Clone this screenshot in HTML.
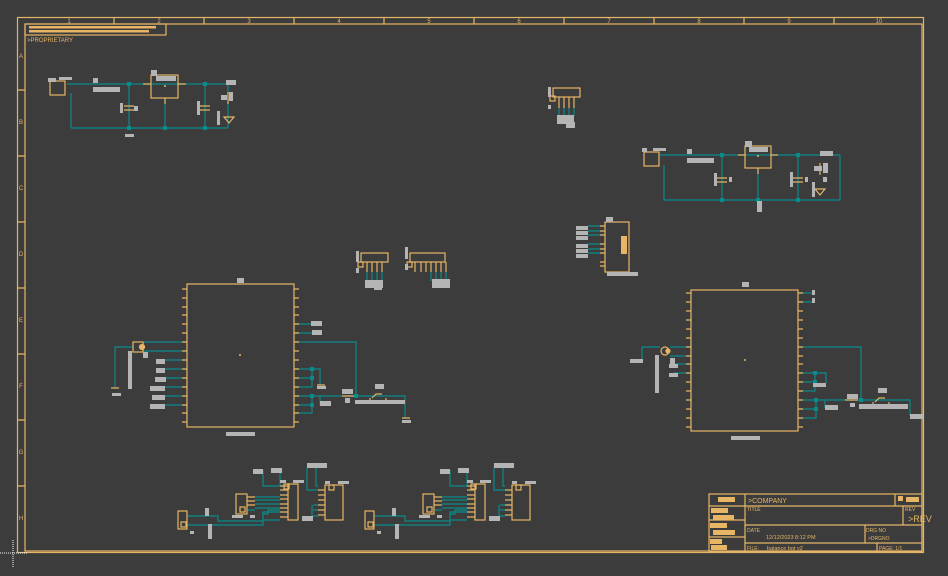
<!DOCTYPE html>
<html><head><meta charset="utf-8"><style>
html,body{margin:0;padding:0;background:#3c3c3c;}
svg{display:block;}
text{font-family:"Liberation Sans",sans-serif;fill:#e6b566;}
</style></head><body>
<svg width="948" height="576" viewBox="0 0 948 576" xmlns="http://www.w3.org/2000/svg">
<rect width="948" height="576" fill="#3c3c3c"/>
<g fill="none" stroke="#e6b566" stroke-width="1.2">
<rect x="17.5" y="17.5" width="906" height="535"/>
<rect x="25" y="24" width="897" height="527"/>
<path d="M114 17.5V24M204 17.5V24M294 17.5V24M384 17.5V24M474 17.5V24M564 17.5V24M654 17.5V24M744 17.5V24M834 17.5V24"/>
<path d="M17.5 90H25M17.5 156H25M17.5 222H25M17.5 288H25M17.5 354H25M17.5 420H25M17.5 486H25"/>
<rect x="25" y="24" width="141" height="11"/>
</g>
<g font-size="6" text-anchor="middle">
<text x="69" y="23">1</text><text x="159" y="23">2</text><text x="249" y="23">3</text><text x="339" y="23">4</text><text x="429" y="23">5</text><text x="519" y="23">6</text><text x="609" y="23">7</text><text x="699" y="23">8</text><text x="789" y="23">9</text><text x="879" y="23">10</text>
<text x="21" y="58">A</text><text x="21" y="124">B</text><text x="21" y="190">C</text><text x="21" y="256">D</text><text x="21" y="322">E</text><text x="21" y="388">F</text><text x="21" y="454">G</text><text x="21" y="520">H</text>
</g>
<rect x="29" y="26" width="127" height="2.5" fill="#e6b566"/><rect x="29" y="30" width="120" height="2.5" fill="#e6b566"/>
<text x="27" y="42" font-size="6">&gt;PROPRIETARY</text>
<path d="M13 540V568M0 553H28" stroke="#fff" stroke-width="1" stroke-dasharray="1,1"/>

<!-- teal wires -->
<g fill="none" stroke="#0a8a8a" stroke-width="1.2">
<!-- top-left reg -->
<path d="M67 84H228M71 128H228M71 93V128M129 84V128M165 98V128M205 84V128M228 84V128"/>
<!-- top-right reg -->
<path d="M660 155H840M664 200H840M664 165V200M722 155V200M758 168V200M798 155V200M840 155V200"/>
<!-- small ICs -->
<path d="M559 108V116M564 108V116M569 108V116M574 108V116"/>
<path d="M367 272V281M372 272V281M377 272V281M382 272V281M431 272V281M436 272V281M441 272V281M446 272V281"/>
<path d="M588 226H605M588 231H605M588 235H605M588 244H605M588 249H605M588 253H605"/>
<!-- left MCU -->
<path d="M143 342H187M143 351H187M165 360H187M165 369H187M165 378H187M165 387H187M165 396H187M165 405H187"/>
<path d="M133 347H115V388"/>
<path d="M294 324H312M294 333H312M294 342H356V396M294 369H312M294 378H312M294 387H312V369M312 369H320V385M294 396H405V418M294 405H312M294 413H312V396M320 396V405"/>
<!-- right MCU -->
<path d="M798 293H812M798 302H812M798 347H861V400M798 373H815M798 382H815M798 391H815V373M815 373H826V383M798 400H910V416M798 409H816M798 418H816V400M825 400V408"/>
<path d="M660 347H642V360M670 347H691M670 356H691M673 364H691M673 373H691"/>
</g>
<g fill="#0a8a8a">
<rect x="127" y="82" width="4" height="4"/><rect x="127" y="126" width="4" height="4"/><rect x="163" y="126" width="4" height="4"/><rect x="203" y="82" width="4" height="4"/><rect x="203" y="126" width="4" height="4"/>
<rect x="720" y="153" width="4" height="4"/><rect x="720" y="198" width="4" height="4"/><rect x="756" y="198" width="4" height="4"/><rect x="796" y="153" width="4" height="4"/><rect x="796" y="198" width="4" height="4"/>
<rect x="310" y="367" width="4" height="4"/><rect x="310" y="376" width="4" height="4"/><rect x="310" y="394" width="4" height="4"/><rect x="310" y="403" width="4" height="4"/><rect x="354" y="394" width="4" height="4"/>
<rect x="813" y="371" width="4" height="4"/><rect x="813" y="380" width="4" height="4"/><rect x="814" y="398" width="4" height="4"/><rect x="814" y="407" width="4" height="4"/><rect x="859" y="398" width="4" height="4"/>
</g>

<!-- orange symbols -->
<g fill="none" stroke="#e6b566" stroke-width="1.2">
<rect x="50" y="81" width="15" height="14"/><rect x="151" y="75" width="27" height="23"/><path d="M143 84H151M178 84H186M165 98V104"/>
<path d="M124 106H134M124 110H134M200 106H210M200 110H210M228 92V104M224 117h10l-5 6z"/>
<rect x="644" y="152" width="15" height="14"/><rect x="745" y="146" width="26" height="22"/><path d="M738 155H745M771 155H778M758 168V174"/>
<path d="M717 178H727M717 182H727M793 178H803M793 182H803M820 163V175M815 189h10l-5 6z"/>
<rect x="553" y="88" width="27" height="9"/><path d="M559 97V108M564 97V108M569 97V108M574 97V108"/><rect x="550" y="96" width="5" height="5"/>
<rect x="605" y="222" width="24" height="50"/><path d="M600 226h5M600 231h5M600 235h5M600 244h5M600 249h5M600 253h5M600 262h5M600 266h5"/>
<rect x="361" y="253" width="27" height="9"/><path d="M367 262V272M372 262V272M377 262V272M382 262V272"/><rect x="358" y="262" width="5" height="5"/>
<rect x="410" y="253" width="35" height="9"/><path d="M415 262V272M421 262V272M426 262V272M431 262V272M436 262V272M441 262V272M446 262V272"/><rect x="407" y="262" width="5" height="5"/>
<rect x="187" y="284" width="107" height="143"/>
<path d="M182 289h5M182 298h5M182 307h5M182 315h5M182 324h5M182 333h5M182 342h5M182 351h5M182 360h5M182 369h5M182 378h5M182 387h5M182 396h5M182 405h5M182 413h5M182 422h5"/>
<path d="M294 289h5M294 298h5M294 307h5M294 315h5M294 324h5M294 333h5M294 342h5M294 351h5M294 360h5M294 369h5M294 378h5M294 387h5M294 396h5M294 405h5M294 413h5M294 422h5"/>
<rect x="133" y="342" width="10" height="10"/><circle cx="142" cy="347" r="2.5" fill="#e6b566"/>
<path d="M111 388h8M317 385h8M402 418h8M342 396h12M372 398l4-4h6M370 398v3M386 398v3"/>
<rect x="691" y="290" width="107" height="141"/>
<path d="M686 293h5M686 302h5M686 311h5M686 320h5M686 329h5M686 338h5M686 347h5M686 356h5M686 364h5M686 373h5M686 382h5M686 391h5M686 400h5M686 409h5M686 418h5M686 427h5"/>
<path d="M798 293h5M798 302h5M798 311h5M798 320h5M798 329h5M798 338h5M798 347h5M798 356h5M798 364h5M798 373h5M798 382h5M798 391h5M798 400h5M798 409h5M798 418h5M798 427h5"/>
<circle cx="665" cy="351" r="4"/><circle cx="668" cy="351" r="2" fill="#e6b566"/>
<path d="M845 400h13M875 402l4-4h6M873 402v3M889 402v3"/>
</g>
<g fill="#e6b566"><circle cx="165" cy="86" r="1"/><circle cx="758" cy="156" r="1"/><circle cx="240" cy="355" r="1"/><circle cx="745" cy="360" r="1"/><rect x="621" y="236" width="6" height="18"/></g>

<!-- bottom group -->
<defs><g id="bg">
<g fill="none" stroke="#0a8a8a" stroke-width="1.2">
<path d="M187 516H218V521H263V512H280M187 525H263V520H280M263 470V486H280M280 470V486M255 497H280M255 500H280M255 504H280M255 508H280M262 514H268V510H280M248 510H255"/>
<path d="M307 467V490H318M316 468V486H318M313 505H318M313 510H318M312 505V516M312 516H318"/>
</g>
<g fill="none" stroke="#e6b566" stroke-width="1.2">
<rect x="178" y="511" width="9" height="18"/><rect x="181" y="522" width="5" height="5"/>
<rect x="236" y="494" width="11" height="20"/><rect x="240" y="507" width="5" height="5"/>
<path d="M247 497h8M247 501h8M247 505h8"/>
<rect x="288" y="484" width="10" height="36"/><path d="M280 486h8M280 490h8M280 495h8M280 499h8M280 504h8M280 508h8M280 512h8M280 517h8"/>
<rect x="325" y="485" width="18" height="35"/><path d="M318 490h7M318 495h7M318 500h7M318 505h7M318 510h7M318 515h7"/>
<rect x="284" y="484" width="5" height="5"/><rect x="329" y="485" width="5" height="5"/>
</g>
<g fill="#b4b4b4"><rect x="205" y="508" width="4" height="8"/><rect x="208" y="524" width="4" height="15"/><rect x="253" y="469" width="10" height="5"/><rect x="271" y="468" width="11" height="5"/><rect x="232" y="515" width="11" height="3"/><rect x="250" y="515" width="5" height="3"/><rect x="280" y="480" width="6" height="3"/><rect x="293" y="480" width="11" height="3"/><rect x="307" y="463" width="20" height="5"/><rect x="325" y="481" width="5" height="3"/><rect x="338" y="481" width="11" height="3"/><rect x="302" y="516" width="11" height="5"/><rect x="190" y="531" width="4" height="3"/></g>
</g></defs>
<use href="#bg"/><use href="#bg" transform="translate(187,0)"/>

<!-- gray labels -->
<g fill="#b4b4b4">
<rect x="48" y="78" width="8" height="4"/><rect x="59" y="77" width="13" height="3"/><rect x="93" y="78" width="5" height="5"/><rect x="93" y="87" width="27" height="5"/><rect x="151" y="70" width="6" height="6"/><rect x="156" y="76" width="20" height="5"/><rect x="226" y="80" width="10" height="5"/><rect x="221" y="95" width="6" height="5"/><rect x="229" y="92" width="4" height="9"/><rect x="120" y="103" width="3" height="10"/><rect x="134" y="106" width="4" height="5"/><rect x="197" y="101" width="3" height="14"/><rect x="217" y="111" width="3" height="14"/><rect x="125" y="134" width="9" height="3"/>
<rect x="642" y="148" width="5" height="4"/><rect x="653" y="148" width="13" height="3"/><rect x="687" y="149" width="5" height="5"/><rect x="687" y="158" width="27" height="5"/><rect x="745" y="141" width="7" height="6"/><rect x="749" y="147" width="19" height="5"/><rect x="820" y="151" width="13" height="5"/><rect x="814" y="166" width="8" height="5"/><rect x="823" y="163" width="5" height="10"/><rect x="823" y="177" width="4" height="5"/><rect x="714" y="173" width="3" height="13"/><rect x="729" y="177" width="3" height="5"/><rect x="790" y="172" width="3" height="15"/><rect x="805" y="177" width="3" height="5"/><rect x="812" y="182" width="3" height="15"/><rect x="757" y="201" width="5" height="11"/>
<rect x="548" y="87" width="3" height="10"/><rect x="548" y="105" width="3" height="4"/><rect x="557" y="115" width="17" height="9"/><rect x="566" y="122" width="9" height="6"/>
<rect x="576" y="226" width="12" height="4"/><rect x="576" y="231" width="12" height="4"/><rect x="576" y="236" width="12" height="4"/><rect x="576" y="244" width="12" height="4"/><rect x="576" y="249" width="12" height="4"/><rect x="576" y="254" width="12" height="4"/><rect x="606" y="217" width="7" height="5"/><rect x="607" y="272" width="31" height="4"/>
<rect x="356" y="251" width="3" height="11"/><rect x="356" y="268" width="3" height="5"/><rect x="365" y="280" width="18" height="8"/><rect x="374" y="286" width="8" height="4"/>
<rect x="405" y="247" width="3" height="12"/><rect x="405" y="264" width="3" height="6"/><rect x="432" y="279" width="18" height="9"/>
<rect x="237" y="278" width="7" height="5"/><rect x="226" y="432" width="29" height="4"/>
<rect x="156" y="359" width="9" height="5"/><rect x="156" y="368" width="9" height="5"/><rect x="155" y="377" width="11" height="5"/><rect x="150" y="386" width="15" height="5"/><rect x="152" y="395" width="13" height="5"/><rect x="150" y="404" width="15" height="5"/>
<rect x="128" y="351" width="4" height="38"/><rect x="143" y="352" width="5" height="6"/><rect x="112" y="393" width="9" height="3"/>
<rect x="311" y="321" width="11" height="5"/><rect x="312" y="330" width="10" height="5"/><rect x="317" y="386" width="9" height="3"/><rect x="342" y="389" width="11" height="5"/><rect x="345" y="398" width="5" height="5"/><rect x="375" y="384" width="9" height="5"/><rect x="355" y="400" width="50" height="4"/><rect x="320" y="401" width="11" height="5"/><rect x="402" y="420" width="9" height="3"/>
<rect x="742" y="282" width="7" height="5"/><rect x="731" y="436" width="29" height="4"/>
<rect x="812" y="290" width="3" height="5"/><rect x="812" y="298" width="3" height="5"/><rect x="813" y="383" width="13" height="4"/><rect x="847" y="394" width="11" height="5"/><rect x="850" y="403" width="5" height="4"/><rect x="878" y="388" width="9" height="5"/><rect x="859" y="404" width="49" height="5"/><rect x="825" y="405" width="13" height="5"/><rect x="910" y="414" width="13" height="5"/>
<rect x="630" y="359" width="13" height="4"/><rect x="655" y="355" width="4" height="38"/><rect x="670" y="358" width="5" height="6"/><rect x="669" y="364" width="9" height="4"/><rect x="669" y="373" width="9" height="4"/>
</g>

<!-- title block -->
<g fill="none" stroke="#e6b566" stroke-width="1.2">
<rect x="709" y="494" width="213" height="58"/>
<path d="M709 506H922M745 525H922M745 543H922M745 494V552M895 494V506M903 506V525M865 525V543M877 543V552M709 520H745M709 537H745"/>
</g>
<g fill="#e6b566">
<rect x="718" y="497" width="17" height="5"/><rect x="711" y="508" width="17" height="5"/><rect x="713" y="515" width="21" height="5"/><rect x="710" y="523" width="17" height="5"/><rect x="713" y="530" width="22" height="5"/><rect x="710" y="539" width="12" height="5"/><rect x="711" y="545" width="16" height="5"/><rect x="906" y="497" width="13" height="5"/><rect x="898" y="496" width="5" height="5"/>
</g>
<text x="748" y="503" font-size="7">&gt;COMPANY</text>
<text x="747" y="511" font-size="5">TITLE</text>
<text x="905" y="511" font-size="5">REV</text>
<text x="908" y="522" font-size="9">&gt;REV</text>
<text x="747" y="532" font-size="5">DATE</text>
<text x="766" y="539" font-size="5.5">12/12/2023 8:12 PM</text>
<text x="866" y="532" font-size="5">DRG NO</text>
<text x="868" y="540" font-size="5">&gt;DRGNO</text>
<text x="747" y="550" font-size="5">FILE:</text>
<text x="767" y="550" font-size="5.5">balance bot v2</text>
<text x="879" y="550" font-size="5">PAGE: 1/1</text>
</svg>
</body></html>
